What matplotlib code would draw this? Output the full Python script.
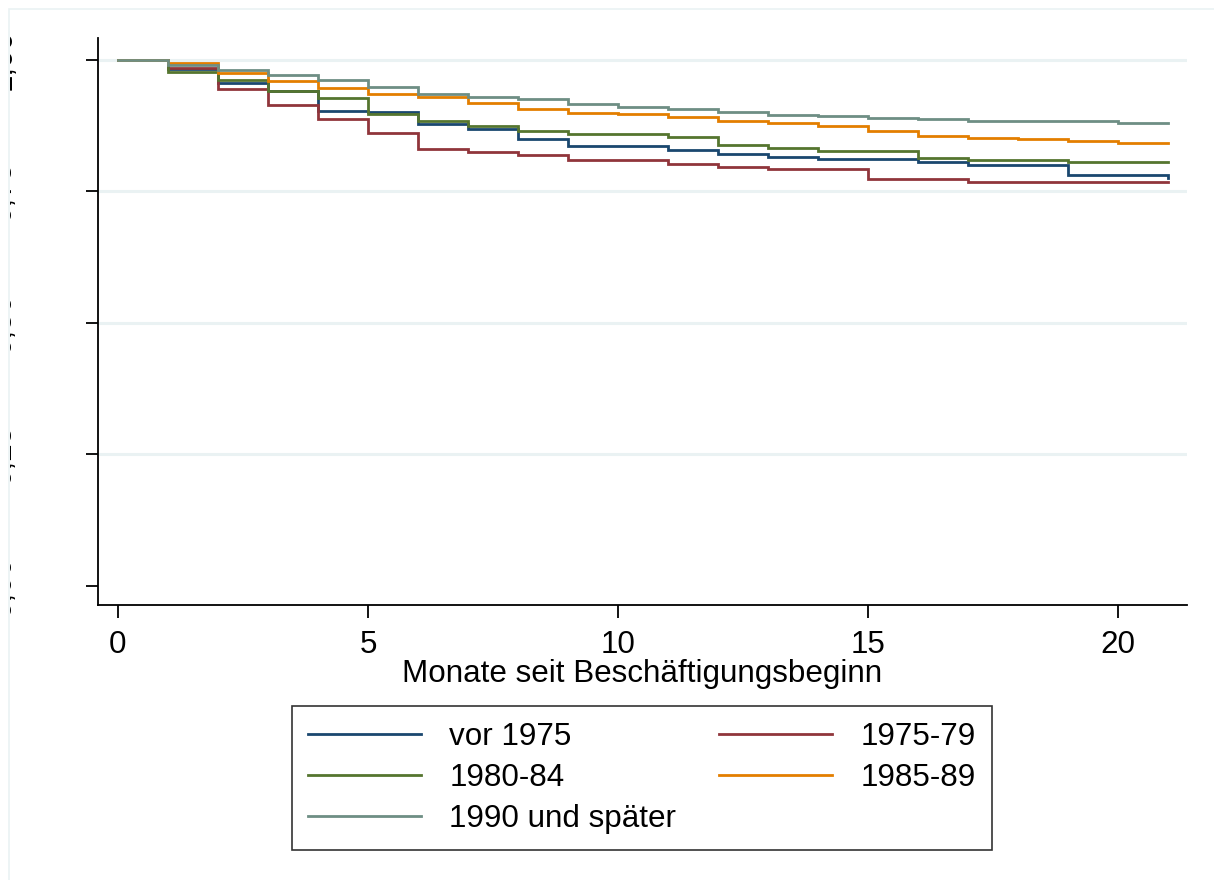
"""
plot.py  --  Kaplan-Meier style survival curves by cohort (Stata look).
"""

import matplotlib as mpl
mpl.use('Agg')
import matplotlib.pyplot as plt
from matplotlib.patches import Rectangle
from matplotlib.transforms import Bbox, TransformedBbox

# --- Data: months since start of employment and survival per cohort ---
MONTHS = list(range(0, 22))

S_VOR1975 = [1.000, 0.982, 0.957, 0.941, 0.903, 0.901, 0.879, 0.868, 0.849, 0.837, 0.837,
             0.828, 0.821, 0.816, 0.811, 0.811, 0.806, 0.800, 0.800, 0.782, 0.782, 0.775]
S_1975_79 = [1.000, 0.984, 0.945, 0.914, 0.887, 0.861, 0.830, 0.825, 0.820, 0.809, 0.809,
             0.803, 0.797, 0.793, 0.793, 0.773, 0.773, 0.767, 0.767, 0.767, 0.767, 0.767]
S_1980_84 = [1.000, 0.977, 0.961, 0.941, 0.927, 0.898, 0.884, 0.875, 0.865, 0.859, 0.859,
             0.853, 0.838, 0.833, 0.826, 0.826, 0.814, 0.810, 0.810, 0.805, 0.805, 0.805]
S_1985_89 = [1.000, 0.994, 0.975, 0.959, 0.947, 0.935, 0.929, 0.919, 0.906, 0.900, 0.897,
             0.891, 0.884, 0.880, 0.875, 0.865, 0.856, 0.851, 0.849, 0.845, 0.842, 0.842]
S_1990 = [1.000, 0.990, 0.981, 0.971, 0.962, 0.948, 0.935, 0.930, 0.926, 0.917, 0.911,
          0.906, 0.901, 0.896, 0.894, 0.889, 0.887, 0.883, 0.883, 0.883, 0.880, 0.880]

LABELS = ['vor 1975', '1975-79', '1980-84', '1985-89', '1990 und später']
SERIES = [S_VOR1975, S_1975_79, S_1980_84, S_1985_89, S_1990]
COLORS = ['#1a476f', '#90353b', '#55752f', '#e37e00', '#6e8e84']

Y_TICKS = [0.0, 0.25, 0.5, 0.75, 1.0]
Y_TICKLABELS = ['0,00', '0,25', '0,50', '0,75', '1,00']
X_TICKS = [0, 5, 10, 15, 20]

GRID_COLOR = '#eaf2f3'
FS = 22.6

mpl.rcParams['font.family'] = ['Liberation Sans', 'DejaVu Sans']

W, H = 1214, 880
fig = plt.figure(figsize=(W / 100, H / 100), dpi=100)

# faint outer frame (partly off-canvas, like the original crop)
fig.patches.append(Rectangle((9 / W, -0.1), 1.2, 1 - 9 / H + 0.1,
                             transform=fig.transFigure, fill=False,
                             edgecolor=GRID_COLOR, lw=1.2, zorder=0))

ax = fig.add_axes([98 / W, 1 - 605 / H, (1187 - 98) / W, (605 - 38) / H])
ax.set_xlim(-0.4, 21.38)
ax.set_ylim(-0.0363, 1.0417)

for y in Y_TICKS[1:]:
    ax.axhline(y, color=GRID_COLOR, lw=2.2, zorder=0)

# --- Curves (steps held to next month) ---
for s, lab, c in zip(SERIES, LABELS, COLORS):
    ax.plot(MONTHS, s, drawstyle='steps-post', color=c, lw=2.0, label=lab,
            solid_joinstyle='miter')

for side in ('top', 'right'):
    ax.spines[side].set_visible(False)
for side in ('left', 'bottom'):
    ax.spines[side].set_linewidth(1.3)

ax.set_xticks(X_TICKS)
ax.set_yticks(Y_TICKS)
ax.set_yticklabels(Y_TICKLABELS, rotation=90, va='center')
ax.tick_params(axis='x', length=9, width=1.3, labelsize=FS, pad=9)
ax.tick_params(axis='y', length=9, width=1.3, labelsize=FS, pad=49)

# y labels are cropped by the outer frame in the original
clip = TransformedBbox(Bbox([[9.5 / W, 0], [1, 1]]), fig.transFigure)
for lbl in ax.get_yticklabels():
    lbl.set_clip_on(True)
    lbl.set_clip_box(clip)

ax.set_xlabel('Monate seit Beschäftigungsbeginn', fontsize=FS, labelpad=-1)

# legend in column-major order, two columns
handles, labels = ax.get_legend_handles_labels()
order = [0, 2, 4, 1, 3]
leg = fig.legend([handles[i] for i in order], [labels[i] for i in order],
                 ncol=2, loc='upper center',
                 bbox_to_anchor=((292 + 992) / 2 / W, 1 - 706 / H),
                 fontsize=FS, frameon=True, fancybox=False, shadow=False,
                 handlelength=3.6, handletextpad=0.9, columnspacing=1.37,
                 labelspacing=0.36, borderpad=0.5, borderaxespad=0)
leg.get_frame().set_edgecolor('black')
leg.get_frame().set_linewidth(1.2)
for ln in leg.get_lines():
    ln.set_linewidth(2.0)

fig.savefig('out.png', dpi=100)
